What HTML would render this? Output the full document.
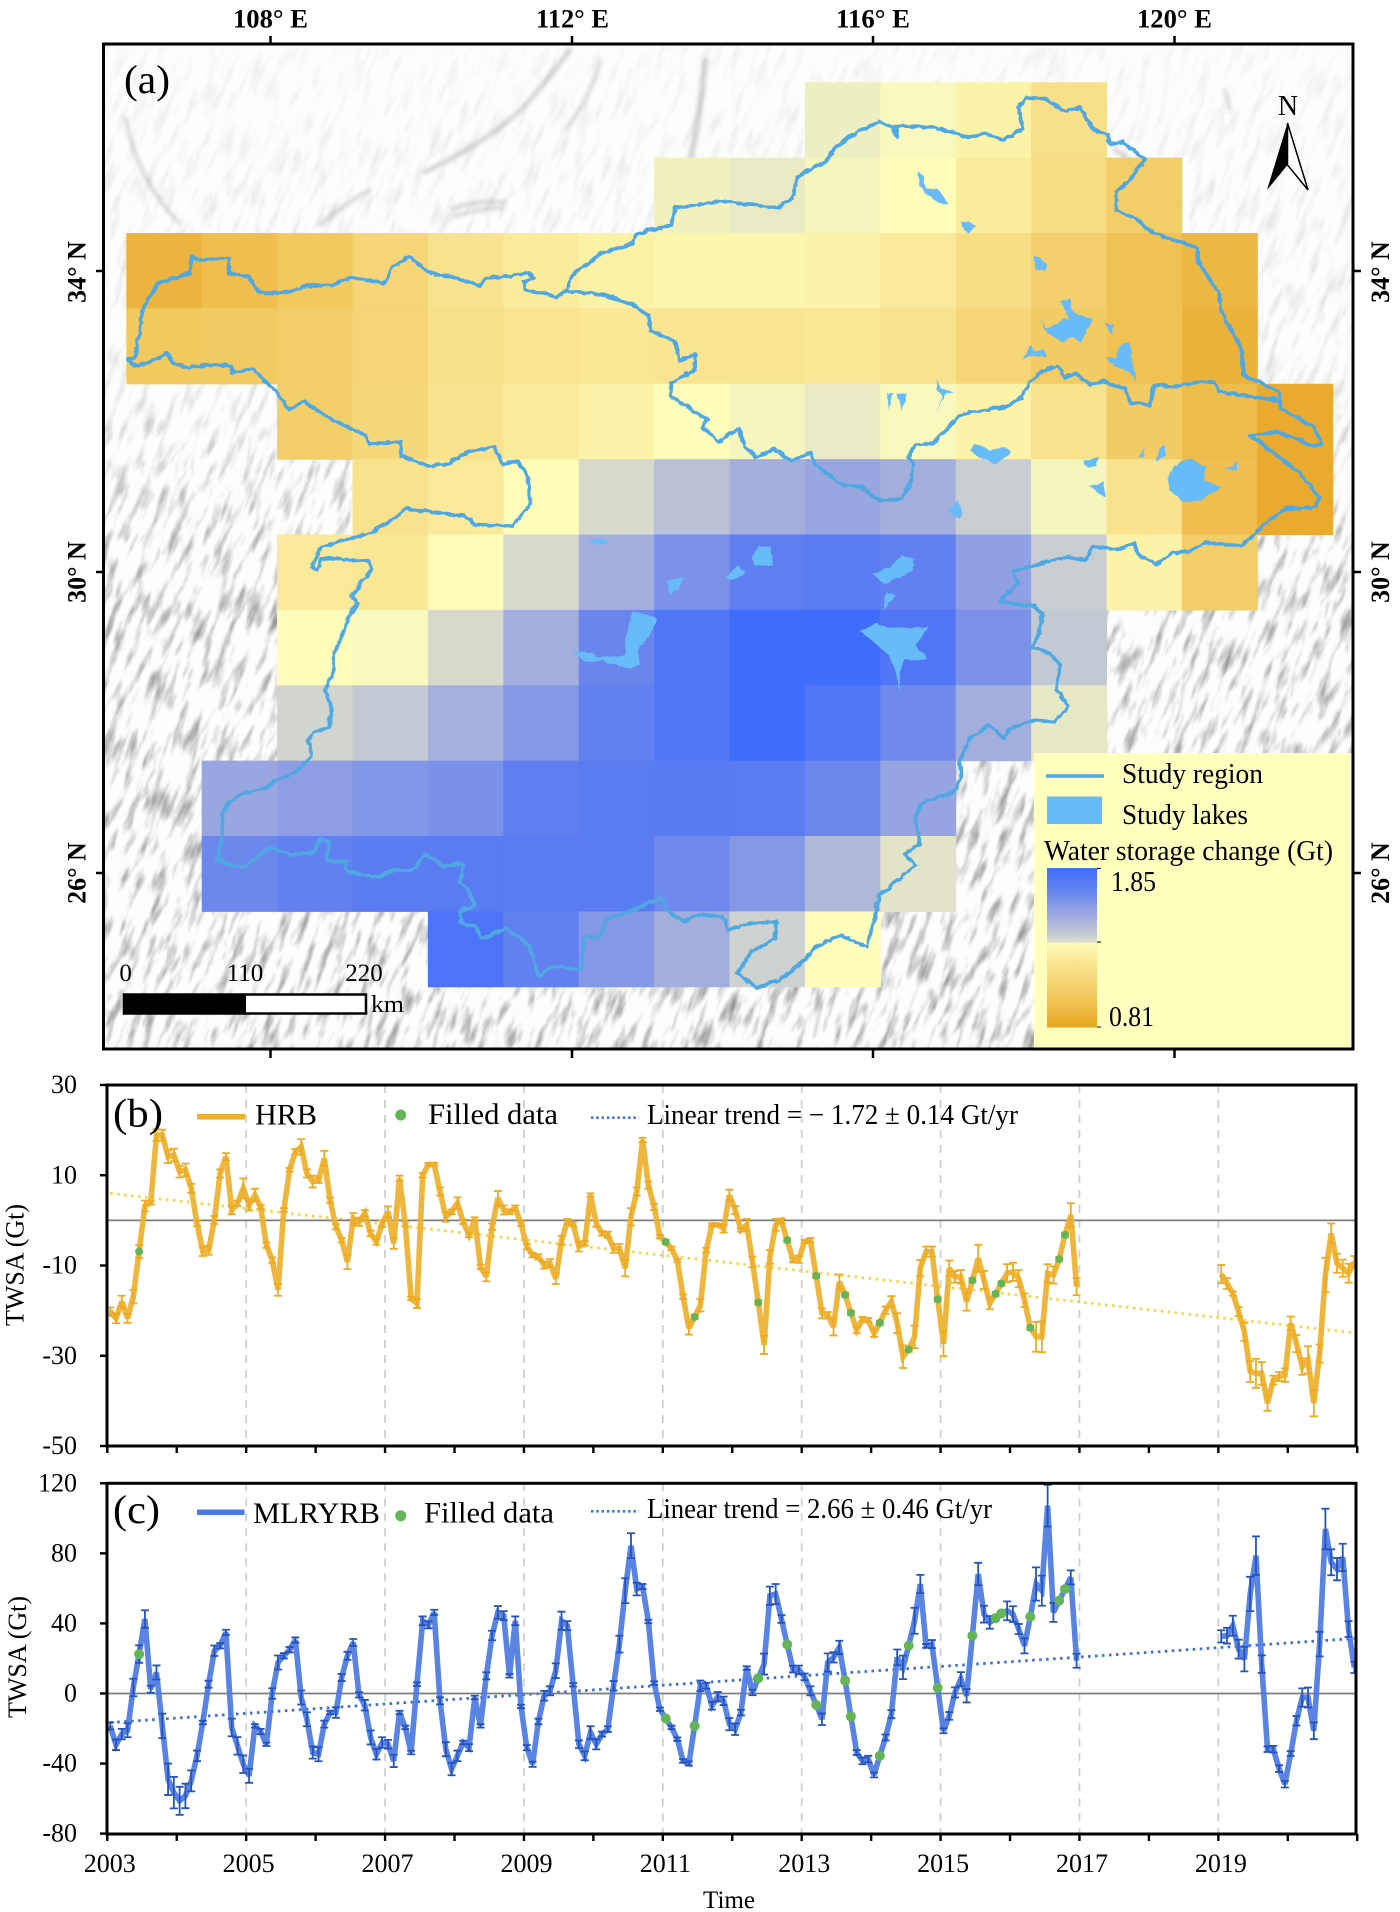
<!DOCTYPE html>
<html lang="en">
<head>
<meta charset="utf-8">
<title>Water storage change map and TWSA time series</title>
<style>
html,body{margin:0;padding:0;background:#fff;}
svg{display:block;}
text{font-family:"Liberation Serif","DejaVu Serif",serif;fill:#000;}
</style>
</head>
<body>
<svg id="figure" xmlns="http://www.w3.org/2000/svg" width="1400" height="1912" viewBox="0 0 1400 1912">
<defs>
  <clipPath id="mapClip"><rect x="103.5" y="44" width="1249.5" height="1005"/></clipPath>
  <clipPath id="clipB"><rect x="107" y="1085" width="1249" height="361"/></clipPath>
  <clipPath id="clipC"><rect x="107" y="1483" width="1249" height="351"/></clipPath>
  <filter id="relief" x="0" y="0" width="100%" height="100%" color-interpolation-filters="sRGB">
    <feTurbulence type="fractalNoise" baseFrequency="0.13 0.028" numOctaves="3" seed="11"/>
    <feColorMatrix type="matrix" values="0 0 0 0 .55  0 0 0 0 .55  0 0 0 0 .55  2.4 0 0 0 -1.16"/>
    <feGaussianBlur stdDeviation="0.7"/>
  </filter>
  <filter id="soft" x="-10%" y="-10%" width="120%" height="120%"><feGaussianBlur stdDeviation="2.2"/></filter>
  <filter id="wiggle" x="-2%" y="-2%" width="104%" height="104%" color-interpolation-filters="sRGB">
    <feTurbulence type="turbulence" baseFrequency="0.09" numOctaves="2" seed="4" result="n"/>
    <feDisplacementMap in="SourceGraphic" in2="n" scale="4" xChannelSelector="R" yChannelSelector="G"/>
  </filter>
  <linearGradient id="reliefFade" x1="0" y1="0" x2="0" y2="1">
    <stop offset="0" stop-color="#fff" stop-opacity=".12"/>
    <stop offset=".34" stop-color="#fff" stop-opacity=".3"/>
    <stop offset=".5" stop-color="#fff" stop-opacity=".9"/>
    <stop offset="1" stop-color="#fff" stop-opacity="1"/>
  </linearGradient>
  <mask id="reliefMask" maskUnits="userSpaceOnUse" x="103" y="44" width="1250" height="1005"><rect x="103" y="44" width="1250" height="1005" fill="url(#reliefFade)"/></mask>
  <linearGradient id="cbar" x1="0" y1="0" x2="0" y2="1">
    <stop offset="0" stop-color="#3f6cfb"/>
    <stop offset=".14" stop-color="#6384ef"/>
    <stop offset=".3" stop-color="#a0aadf"/>
    <stop offset=".42" stop-color="#c8ccd4"/>
    <stop offset=".465" stop-color="#dfe2cc"/>
    <stop offset=".47" stop-color="#fdfcbb"/>
    <stop offset=".6" stop-color="#f9e48f"/>
    <stop offset=".8" stop-color="#f2c95f"/>
    <stop offset="1" stop-color="#e8a520"/>
  </linearGradient>
</defs>

<!-- PANEL A: MAP -->
<g id="panelA">
  <rect x="103.5" y="44" width="1249.5" height="1005" fill="#fdfdfd"/>
  <g clip-path="url(#mapClip)">
    <g mask="url(#reliefMask)">
      <g transform="rotate(20 730 550)"><rect x="-50" y="-150" width="1560" height="1400" filter="url(#relief)"/></g>
    </g>
    <g fill="none" stroke="#8e8e8e" stroke-linecap="round" filter="url(#soft)" opacity=".45">
      <path stroke-width="3" d="M126,118 Q135,175 178,222"/>
      <path stroke-width="4" d="M425,172 Q500,135 530,100 Q555,70 570,50"/>
      <path stroke-width="3" d="M452,208 Q480,200 505,202"/>
      <path stroke-width="3" d="M455,216 Q480,208 502,208"/>
      <path stroke-width="5" d="M690,160 Q700,120 705,60"/>
      <path stroke-width="3" d="M600,60 Q590,100 565,130"/>
      <path stroke-width="3" d="M320,225 Q350,200 370,190"/>
      <path stroke-width="3" d="M1225,90 L1230,110"/>
      <path stroke-width="4" d="M1115,150 L1130,160"/>
    </g>
  </g>
  <g id="gridCells"></g>

  <g fill="#66bbf8" filter="url(#wiggle)">
    <g transform="translate(700,0) scale(.44643,.34435)">
      <path d="M485,495 L500,510 505,545 530,545 555,590 530,585 505,560 490,535Z"/>
      <path d="M582,640 L600,640 615,655 600,675 590,665Z"/>
      <path d="M743,740 L760,745 775,765 770,785 750,780Z"/>
      <path d="M805,870 L825,865 835,905 878,925 850,990 835,975 810,990 775,965 760,920 775,950 800,935 825,920Z"/>
      <path d="M905,935 L925,940 920,968 912,955Z"/>
      <path d="M720,1040 L740,1000 745,1015 770,1015 775,1035 750,1030 735,1030Z"/>
      <path d="M940,995 L962,995 965,1050 978,1110 960,1075 945,1070 925,1060 905,1035 930,1035Z"/>
      <path d="M415,1138 L432,1140 420,1185Z"/>
      <path d="M440,1145 L462,1138 450,1192Z"/>
      <path d="M525,1100 L540,1125 565,1135 545,1145 525,1195 540,1150 530,1130Z"/>
      <path d="M610,1285 L630,1290 650,1310 680,1295 695,1310 660,1345 620,1325 605,1305Z"/>
      <path d="M855,1335 L890,1325 885,1350 865,1355Z"/>
      <path d="M980,1325 L995,1295 990,1325Z"/>
      <path d="M1025,1300 L1040,1290 1040,1320 1020,1340Z"/>
      <path d="M1090,1330 L1130,1350 1125,1390 1165,1410 1120,1450 1080,1455 1050,1420 1045,1380 1060,1350Z"/>
      <path d="M1175,1360 L1205,1335 1200,1365Z"/>
      <path d="M870,1410 L905,1400 905,1440 885,1425Z"/>
      <path d="M555,1480 L575,1450 585,1490 575,1505Z"/>
    </g>
    <g transform="translate(700,540) scale(.44643,.34435)">
      <path d="M55,105 L85,70 100,95 65,115Z"/>
      <path d="M115,40 L130,15 155,20 160,70 120,70Z"/>
      <path d="M385,95 L420,80 450,40 480,55 470,90 410,125Z"/>
      <path d="M415,150 L435,155 400,220 395,240 430,255 510,250 480,300 510,345 460,345 445,380 445,440 435,370 420,330 375,280 355,265 395,235 410,200Z"/>
    </g>
    <g transform="translate(0,540) scale(.44643,.34435)">
      <path d="M1490,115 L1528,105 1520,135 1500,155Z"/>
      <path d="M1415,200 L1470,225 1455,270 1425,315 1430,360 1410,370 1350,350 1310,350 1280,320 1320,325 1340,340 1400,330 1400,280Z"/>
      <path d="M1315,0 L1350,-8 1365,5 1330,10Z"/>
    </g>
  </g>

  <g fill="none" stroke="#4fa8e2" stroke-width="3.6" stroke-linejoin="round" filter="url(#wiggle)">
    <g transform="scale(.44643,.34435)">
      <path vector-effect="non-scaling-stroke" d="M283,1040 L300,1035 305,1000 312,950 315,900 328,870 352,820 425,790 425,742 445,752 510,748 510,790 555,800 578,850 640,845 700,825 740,825 785,802 860,820 878,770 915,742 958,790 1010,800 1075,828 1085,805 1140,800 1180,788 1195,805 1170,815 1175,838 1245,860 1265,845 1278,800 1340,735 1415,705 1420,680 1500,650 1510,600 1568,590"/>
      <path vector-effect="non-scaling-stroke" d="M1265,845 L1295,845 1350,855 1415,880 1450,915 1455,955 1510,990 1520,1045 1555,1025 1555,1070 1530,1090 1500,1110 1500,1145 1568,1205"/>
      <path vector-effect="non-scaling-stroke" d="M760,1568 L830,1545 910,1475 1040,1495 1060,1520 1145,1525 1185,1460 1180,1380 1155,1335 1125,1345 1105,1295 1045,1310 1000,1345 960,1350 895,1320 895,1280 825,1285 815,1260 740,1215 680,1165 645,1185 610,1125 575,1085 565,1070 520,1080 515,1060 480,1055 420,1065 385,1050 370,1020 350,1040 300,1060 283,1040"/>
    </g>
    <g transform="translate(700,0) scale(.44643,.34435)">
      <path vector-effect="non-scaling-stroke" d="M0,590 L50,580 100,590 175,600 205,570 215,510 280,465 300,425 350,380 400,350 430,370 440,395 435,365 490,365 530,370 600,395 640,385 680,405 720,370 710,310 730,280 775,285 810,320 850,310 880,375 910,385 915,415 945,410 995,460 960,520 930,555 930,610 975,630 1005,670 1110,715 1115,760 1160,850 1165,900 1210,1010 1215,1085 1295,1135 1295,1160"/>
      <path vector-effect="non-scaling-stroke" d="M0,1205 L15,1215 5,1240 40,1280 85,1240 100,1300 125,1325 165,1300 200,1335 245,1310 255,1345 315,1405 360,1410 400,1450 450,1445 470,1400 475,1340 465,1325 480,1290 520,1285 570,1215 600,1195 680,1180 720,1150 735,1110 765,1075 800,1060 815,1095 840,1080 870,1115 900,1105 950,1125 960,1165 1005,1175 1015,1115 1055,1120 1100,1110 1150,1105 1160,1135 1210,1145 1295,1160 1300,1185 1375,1240 1390,1285 1375,1295 1340,1275 1290,1250 1230,1262 1270,1300 1340,1370 1385,1440 1375,1470 1310,1475 1260,1520 1225,1568"/>
    </g>
    <g transform="translate(700,540) scale(.44643,.34435)">
      <path vector-effect="non-scaling-stroke" d="M1225,0 L1210,12 1130,5 1095,30 1058,35 1020,68 980,40 970,5 935,25 880,15 860,55 820,45 750,70 700,90 710,120 670,175 745,190 765,210 760,260 740,310 780,325 805,360 795,430 825,480 790,525 745,520 690,545 680,575 645,535 600,575 578,640 585,690 565,730 495,760 480,800 490,880 455,910 480,940 430,1000 400,1030 390,1090 380,1130 372,1180 315,1145 255,1180 230,1220 175,1275 125,1297 80,1255 115,1190 165,1155 170,1105 110,1110 60,1130 50,1090 0,1085"/>
    </g>
    <g transform="translate(0,540) scale(.44643,.34435)">
      <path vector-effect="non-scaling-stroke" d="M1568,1085 L1530,1105 1490,1070 1480,1035 1420,1070 1360,1095 1340,1150 1305,1150 1300,1245 1230,1235 1205,1265 1185,1175 1130,1125 1080,1155 1060,1120 1030,1110 1030,1075 1060,1060 1045,1010 1030,990 1035,935 990,945 950,910 920,960 880,955 845,975 790,965 770,950 775,930 730,930 735,870 715,865 700,905 650,910 600,890 565,925 540,950 500,935 485,925 495,860 495,790 510,760 540,735 600,715 615,695 660,670 695,625 690,580 700,555 735,540 740,490 725,430 745,380 745,330 780,220 800,180 785,160 830,85 825,60 745,50 715,50 710,85 695,75 715,20 760,0"/>
    </g>
  </g>

  <text x="124" y="93" font-size="40" textLength="46" lengthAdjust="spacingAndGlyphs">(a)</text>

  <g>
    <text x="1288" y="115" font-size="28" text-anchor="middle">N</text>
    <path d="M1287.5,123 L1267,190 1287.5,165Z" fill="#000"/>
    <path d="M1287.5,123 L1308,190 1287.5,165Z" fill="#fff" stroke="#000" stroke-width="1.5"/>
  </g>

  <g>
    <rect x="124" y="994.5" width="242" height="19" fill="#fff" stroke="#000" stroke-width="2.5"/>
    <rect x="124" y="994" width="122" height="20" fill="#000"/>
    <text x="125.6" y="981" font-size="25" text-anchor="middle">0</text>
    <text x="245" y="981" font-size="25" text-anchor="middle">110</text>
    <text x="364" y="981" font-size="25" text-anchor="middle">220</text>
    <text x="371" y="1012" font-size="24" textLength="33" lengthAdjust="spacingAndGlyphs">km</text>
  </g>

  <g>
    <rect x="1034" y="753" width="318" height="295" fill="#ffffbe"/>
    <line x1="1046" y1="776" x2="1104" y2="776" stroke="#4fa8e2" stroke-width="3.4"/>
    <text x="1122" y="783" font-size="29" textLength="141" lengthAdjust="spacingAndGlyphs">Study region</text>
    <rect x="1047" y="796.5" width="55" height="27.5" fill="#66bbf8"/>
    <text x="1122" y="824" font-size="29" textLength="126" lengthAdjust="spacingAndGlyphs">Study lakes</text>
    <text x="1044" y="860" font-size="29" textLength="289" lengthAdjust="spacingAndGlyphs">Water storage change (Gt)</text>
    <rect x="1047" y="868" width="50" height="159.5" fill="url(#cbar)"/>
    <path d="M1097,868.5 H1101 M1097,942 H1101 M1097,1027 H1101" stroke="#000" stroke-width="1"/>
    <text x="1111" y="891" font-size="29" textLength="45" lengthAdjust="spacingAndGlyphs">1.85</text>
    <text x="1109" y="1026" font-size="29" textLength="45" lengthAdjust="spacingAndGlyphs">0.81</text>
  </g>

  <rect x="103.5" y="44" width="1249.5" height="1005" fill="none" stroke="#000" stroke-width="3"/>
  <path d="M270.5,44 V36 M572,44 V36 M873,44 V36 M1174.5,44 V36 M270.5,1049 V1058 M572,1049 V1058 M873,1049 V1058 M1174.5,1049 V1058 M103.5,271 H96 M103.5,572 H96 M103.5,873 H96 M1353,271 H1361 M1353,572 H1361 M1353,873 H1361" stroke="#000" stroke-width="2.5"/>
  <g font-size="26" font-weight="bold" text-anchor="middle">
    <text x="270.5" y="27.5" textLength="75" lengthAdjust="spacingAndGlyphs" font-weight="bold">108° E</text>
    <text x="572.5" y="27.5" textLength="73" lengthAdjust="spacingAndGlyphs" font-weight="bold">112° E</text>
    <text x="873" y="27.5" textLength="74" lengthAdjust="spacingAndGlyphs" font-weight="bold">116° E</text>
    <text x="1174.5" y="27.5" textLength="75" lengthAdjust="spacingAndGlyphs" font-weight="bold">120° E</text>
    <text transform="translate(85.5,272) rotate(-90)" font-weight="bold">34° N</text>
    <text transform="translate(85.5,572) rotate(-90)" font-weight="bold">30° N</text>
    <text transform="translate(85.5,873) rotate(-90)" font-weight="bold">26° N</text>
    <text transform="translate(1389,272) rotate(-90)" font-weight="bold">34° N</text>
    <text transform="translate(1389,572) rotate(-90)" font-weight="bold">30° N</text>
    <text transform="translate(1389,873) rotate(-90)" font-weight="bold">26° N</text>
  </g>
</g>

<!-- PANEL B -->
<g id="panelB">
  <g id="plotB" clip-path="url(#clipB)"></g>
  <rect x="107" y="1085" width="1249" height="361" fill="none" stroke="#000" stroke-width="3"/>
  <g id="axisB"></g>
  <text transform="translate(23.5,1265) rotate(-90)" font-size="26" text-anchor="middle">TWSA (Gt)</text>
  <text x="113" y="1126.7" font-size="40" textLength="50" lengthAdjust="spacingAndGlyphs">(b)</text>
  <g>
    <line x1="197" y1="1116.7" x2="245" y2="1116.7" stroke="#eeb02e" stroke-width="5.5"/>
    <text x="255" y="1124.3" font-size="30" textLength="62" lengthAdjust="spacingAndGlyphs">HRB</text>
    <circle cx="400.7" cy="1115" r="5.5" fill="#63b557"/>
    <text x="428" y="1124" font-size="30" textLength="130" lengthAdjust="spacingAndGlyphs">Filled data</text>
    <line x1="591" y1="1117.7" x2="639" y2="1117.7" stroke="#3f6fd8" stroke-width="2.6" stroke-dasharray="2.4 2.9"/>
    <text x="647" y="1124" font-size="28" textLength="371" lengthAdjust="spacingAndGlyphs">Linear trend = − 1.72 ± 0.14 Gt/yr</text>
  </g>
</g>

<!-- PANEL C -->
<g id="panelC">
  <g id="plotC" clip-path="url(#clipC)"></g>
  <rect x="107" y="1483.3" width="1249" height="350.7" fill="none" stroke="#000" stroke-width="3"/>
  <g id="axisC"></g>
  <text transform="translate(26,1657) rotate(-90)" font-size="26" text-anchor="middle">TWSA (Gt)</text>
  <text x="729" y="1908" font-size="25" text-anchor="middle">Time</text>
  <text x="113" y="1523" font-size="40" textLength="47" lengthAdjust="spacingAndGlyphs">(c)</text>
  <g>
    <line x1="197" y1="1512.3" x2="244.5" y2="1512.3" stroke="#4b7ae2" stroke-width="5.5"/>
    <text x="253" y="1523" font-size="30" textLength="127" lengthAdjust="spacingAndGlyphs">MLRYRB</text>
    <circle cx="400.7" cy="1515.7" r="5.5" fill="#63b557"/>
    <text x="424" y="1522.7" font-size="30" textLength="130" lengthAdjust="spacingAndGlyphs">Filled data</text>
    <line x1="591" y1="1511.3" x2="639" y2="1511.3" stroke="#3f6fd8" stroke-width="2.6" stroke-dasharray="2.4 2.9"/>
    <text x="647" y="1518" font-size="28" textLength="345" lengthAdjust="spacingAndGlyphs">Linear trend = 2.66 ± 0.46 Gt/yr</text>
  </g>
</g>

<script>
// ---- Map grid values (Gt), rows north to south, null = no data
const gridRows = [
  [null,null,null,null,null,null,null,null,null,1.22,1.205,1.15,1.07,null,null,null],
  [null,null,null,null,null,null,null,1.215,1.225,1.21,1.20,1.12,1.06,1.00,null,null],
  [0.88,0.93,0.98,1.03,1.08,1.12,1.145,1.16,1.16,1.15,1.11,1.06,1.01,0.95,0.90,null],
  [0.98,0.985,1.00,1.03,1.07,1.09,1.10,1.09,1.09,1.10,1.08,1.03,0.99,0.95,0.87,null],
  [null,null,1.00,1.04,1.08,1.12,1.15,1.20,1.21,1.225,1.205,1.15,1.08,0.99,0.92,0.82],
  [null,null,null,1.08,1.11,1.20,1.25,1.31,1.36,1.40,1.36,1.28,1.21,1.08,0.93,0.82],
  [null,null,1.11,1.10,1.20,1.25,1.36,1.50,1.63,1.66,1.62,1.43,1.28,1.15,1.00,null],
  [null,null,1.20,1.205,1.25,1.36,1.58,1.72,1.85,1.85,1.72,1.50,1.29,null,null,null],
  [null,null,1.26,1.29,1.35,1.47,1.62,1.72,1.85,1.73,1.56,1.36,1.23,null,null,null],
  [null,1.40,1.44,1.48,1.51,1.63,1.65,1.67,1.66,1.57,1.41,null,null,null,null,null],
  [null,1.57,1.62,1.65,1.66,1.66,1.66,1.56,1.47,1.33,1.235,null,null,null,null,null],
  [null,null,null,null,1.75,1.62,1.47,1.36,1.27,1.20,null,null,null,null,null,null]
];
const colorStopValues = [0.81,0.90,0.98,1.05,1.10,1.15,1.20,1.25,1.35,1.50,1.65,1.85];
const colorStopHex = ['#e8a82c','#edb743','#f1c95f','#f6da80','#fae796','#fcf3a8','#fdfcbb','#d6d9cc','#a7b0dc','#7c92e9','#5b7cf1','#3f6cfb'];

// ---- Panel (b) HRB monthly TWSA, Gt. Segment 1 starts Jan 2003, segment 2 starts Jan 2019
const hrbValues1 = [-20.2,-21.7,-18.0,-21.7,-16.9,-6.9,3.2,3.9,18.9,18.9,14.1,14.5,10.8,11.2,7.1,-0.7,-6.9,-6.6,0.1,10.4,14.1,2.3,3.8,7.1,3.4,5.6,3.0,-5.5,-8.8,-15.4,2.3,11.2,15.2,16.3,10.4,8.6,8.9,13.7,4.5,-1.4,-4.4,-9.2,0.4,-0.3,1.6,-2.9,-4.7,-0.7,1.9,-5.1,9.3,-0.8,-17.3,-18.4,10.0,12.4,12.4,6.4,0.8,1.9,3.8,-0.3,-3.2,0.3,-10.3,-12.5,-1.4,4.9,2.3,1.9,2.7,-0.7,-5.8,-7.7,-8.1,-9.9,-9.5,-12.9,-4.4,-0.3,-0.8,-5.8,-5.1,5.6,-0.7,-2.9,-3.2,-6.2,-6.2,-10.6,0.8,6.4,17.8,7.8,3.0,-3.6,-4.8,-6.2,-8.9,-16.9,-23.9,-21.4,-18.8,-6.6,-1.0,-1.0,-1.8,5.6,2.3,-2.1,-1.0,-9.2,-18.2,-27.6,-8.1,-1.0,-0.1,-4.4,-8.8,-8.6,-4.7,-4.4,-12.3,-20.6,-21.0,-23.6,-13.6,-16.5,-20.5,-24.3,-21.9,-22.1,-25.0,-22.7,-19.9,-18.0,-22.8,-30.2,-28.6,-25.8,-10.6,-6.9,-6.9,-17.5,-27.3,-10.6,-12.5,-12.5,-18.0,-13.3,-8.4,-13.2,-18.4,-16.3,-14.0,-11.7,-11.4,-12.9,-17.7,-23.8,-25.8,-25.8,-11.7,-12.1,-8.6,-3.2,1.2,-14.7];
const hrbErrors1 = [.9,1.1,1.3,1,1.5,1.4,1.2,.4,1.3,1.2,1.4,1.4,1.3,1.4,1,.6,1,1,.9,.9,.8,.9,.6,2.2,1.2,1.4,.4,.6,.6,1.3,.4,.4,.6,1.7,.9,1.3,.6,1.7,.6,.6,.5,1.6,1.2,.9,.7,.6,.7,.7,1.2,1.2,.6,.5,.4,1,.5,.3,.3,.9,1.1,.5,1.3,.5,.5,.4,.5,1,.7,1.6,1,.5,.6,.5,.6,.5,.6,.8,.9,1.2,1,.6,.5,1.1,.5,.4,.7,.5,.7,1,1,1.8,1.9,.9,.5,.8,.7,.4,.5,.4,.3,.5,1.4,.5,1.4,.5,.3,.3,.9,1.2,.9,.4,1.3,1.2,.5,2,1.5,1.3,.5,.5,.5,.8,.4,.5,.5,1.1,.7,1.9,1.6,.5,.5,.7,.5,.5,.8,.5,.8,1.2,2.2,2.5,.5,2.5,1.8,1.1,1.1,.5,2.8,1.7,1.3,1.5,2,.5,3,2,1.3,.5,.5,2,2,1.9,1.5,.5,3.3,3.4,2,1.9,.5,.5,2.6,1.9];
const hrbValues2 = [-11.9,-14.0,-16.2,-20.2,-24.7,-33.5,-33.9,-33.9,-40.5,-35.4,-34.6,-34.3,-22.8,-27.3,-32.4,-30.9,-40.5,-29.5,-12.1,-2.9,-9.5,-10.6,-11.7,-9.2];
const hrbErrors2 = [2,1.2,.5,1,2,2.3,3.2,2.5,1.7,1,1,1.5,1.5,1.9,1.8,3,2.9,2,3.8,2.2,2.1,1.9,2.1,1.3];
const hrbFilledMonths = [5,96,101,112,117,122,127,128,133,138,143,149,153,154,159,164,165];
const hrbTrendEnds = [6.0,-24.9];
const hrbYTicks = [30,10,-10,-30,-50];

// ---- Panel (c) MLRYRB monthly TWSA, Gt
const mlrValues1 = [-18.5,-29.3,-23.2,-21,3.4,22.5,42.5,2.5,12,-18.5,-49,-56.6,-61.3,-58.5,-49.9,-35.6,-16.6,5.3,24.4,27.2,34.9,-19.4,-29.9,-40.4,-47,-18.5,-21.7,-29,0,17.7,21.5,25,30.5,-2.3,-14.7,-33.7,-34.7,-17.5,-10.9,-10.9,9.1,21.5,29.1,-0.8,-6.7,-25.1,-34.7,-28,-29,-38.5,-10.9,-19.4,-33.7,5.3,41.5,39.2,46.3,-4.2,-31.8,-43.2,-35.6,-28,-30.9,-2.3,-18.5,10.1,33.1,46.3,44.4,10.1,41.5,-7.4,-30.9,-40.4,-16,-1.3,1.5,13,41.5,38.7,5,-29,-35.6,-22.3,-29,-23.2,-20.4,4.4,28.2,58.7,84.4,59.6,61.1,41.1,5.9,-9,-14.3,-19.4,-26.1,-38.5,-40,-18.5,4.4,4.4,-7,-1.9,-4.2,-17.5,-20.4,-10.9,14.5,0.6,8.8,16.8,55.8,56.8,42.5,28,13.9,13.5,9.5,1.5,-6.5,-14.7,17.7,20.6,26.3,7.4,-13.1,-33.7,-38.5,-37.5,-46.5,-35.6,-25.1,-11.8,20.6,14.9,27.4,41.5,62.5,27.2,28.2,3.2,-21.3,-12.8,0.6,8.2,-1.3,33,68.2,45.3,40.6,43,45.7,47.2,45.3,36.8,27.2,43.8,62.5,58.7,107.2,46.3,53,59.6,66.3,18.7];
const mlrErrors1 = [2,3,3,4,5,5,5,2,4,7,9,9,8,7,6,3,1,2,3,1.5,1.5,5,5,5,4,1,1.5,1,3,4,1.5,1.5,1.5,4,4,3.5,4,2,1,3,2,2.3,2,1.5,3,4,3,3,2.5,3.5,1,1,1,1,2.5,2,1.5,2,4,3.5,3,1,2,1,1,2,2.7,3.6,2.6,1,2.5,1,1.5,1.5,1.6,2.8,2.6,4.2,5.2,2.6,1,2.2,2.5,3.6,2.9,1.4,1.6,2.7,4.8,7.1,7.1,3.6,1.4,1,1,1,1,1,1,1,1.2,1,3,1.7,2.2,2.7,2.4,3.5,3.3,1.6,1,1.6,1.5,6,5.2,5.7,2.2,1,1.9,2.4,1.9,2.6,1,3.3,5.2,2.9,3.8,1.5,1.5,1.4,1.9,1.9,1.4,1,1.7,2.3,4.5,6.7,1,7.4,5.2,1.1,2.3,1,1.4,2.2,2.9,4,3.8,1,6.4,4.8,3.6,1,1,5.4,4.5,2.9,4.3,1,9.5,8.6,11.9,5.4,1,1,4,4];
const mlrValues2 = [32.6,33,38.7,25.3,19.6,56.8,78.7,16.8,-31.8,-31.8,-42.9,-51.8,-34.3,-15.6,-2.3,-2.3,-21.3,28.2,93.9,74.9,71,77.7,36.8,14.9];
const mlrErrors2 = [3.5,4.5,5.7,5.4,7,9.8,11,5,1.6,1.9,1.9,1.9,1.4,2.7,5.2,5.7,4.8,7,11.6,7.4,6.4,7.8,4.5,3.2];
const mlrFilledMonths = [5,96,101,112,117,122,127,128,133,138,143,149,153,154,159,164,165];
const mlrTrendEnds = [-16.6,31.4];
const mlrYTicks = [120,80,40,0,-40,-80];

// ---- Shared time axis
const xTickYears = [2003,2004,2005,2006,2007,2008,2009,2010,2011,2012,2013,2014,2015,2016,2017,2018,2019,2020,2021];
const xLabelYears = [2003,2005,2007,2009,2011,2013,2015,2017,2019];
const dashedYears = [2005,2007,2009,2011,2013,2015,2017,2019];

const NS = 'http://www.w3.org/2000/svg';
function mk(tag, attrs, parent){
  const e = document.createElementNS(NS, tag);
  for (const k in attrs) e.setAttribute(k, attrs[k]);
  parent.appendChild(e);
  return e;
}
function xYear(y){ return 107.3 + (y - 2003) * 69.44; }
function xMonth(m){ return xYear(2003 + (m + 0.5) / 12); }
function yB(v){ return 1085 + (30 - v) * 4.5125; }
function yC(v){ return 1483.3 + (120 - v) * 1.7515; }

function hexToRgb(h){ return [parseInt(h.slice(1,3),16),parseInt(h.slice(3,5),16),parseInt(h.slice(5,7),16)]; }
function colorFor(v){
  for (let i = 0; i < colorStopValues.length - 1; i++){
    if (v <= colorStopValues[i+1]){
      const f = Math.max(0,(v - colorStopValues[i]) / (colorStopValues[i+1] - colorStopValues[i]));
      const a = hexToRgb(colorStopHex[i]), b = hexToRgb(colorStopHex[i+1]);
      return 'rgb(' + a.map((c,k) => Math.round(c + (b[k]-c)*f)).join(',') + ')';
    }
  }
  return colorStopHex[colorStopHex.length-1];
}
function gridX(c){ return 126.3 + 75.4 * c; }
function gridY(r){ return 82.3 + 75.37 * r; }

const gridG = document.getElementById('gridCells');
gridRows.forEach((row, r) => row.forEach((v, c) => {
  if (v === null) return;
  const cell = mk('rect', {x:gridX(c), y:gridY(r), width:75.9, height:75.9, fill:colorFor(v)}, gridG);
  
  
}));

function drawChart(opt){
  const plot = document.getElementById(opt.plotId), axis = document.getElementById(opt.axisId);
  const top = opt.top, bottom = opt.bottom, y = opt.y;
  dashedYears.forEach(yr => {
    const g = mk('line', {x1:xYear(yr), x2:xYear(yr), y1:top, y2:bottom, stroke:'#cfcfcf', 'stroke-width':1.8, 'stroke-dasharray':'8 7'}, plot);
    
    
  });
  const trend = mk('line', {x1:xMonth(0), x2:xMonth(215), y1:y(opt.trendEnds[0]), y2:y(opt.trendEnds[1]), stroke:opt.trendColor, 'stroke-width':2.8, 'stroke-dasharray':'2.6 4.4'}, plot);
  
  
  const zero = mk('line', {x1:107, x2:1356, y1:y(0), y2:y(0), stroke:'#7d7d7d', 'stroke-width':1.8}, plot);
  
  

  opt.segments.forEach(seg => {
    const pts = seg.values.map((v, k) => xMonth(seg.start + k).toFixed(1) + ',' + y(v).toFixed(1)).join(' ');
    const line = mk('polyline', {points:pts, fill:'none', stroke:opt.color, 'stroke-width':5.6, 'stroke-linejoin':'miter', 'stroke-miterlimit':3, opacity:.92}, plot);
    
    
    seg.values.forEach((v, k) => {
      const x = xMonth(seg.start + k), e = seg.errors[k];
      const d = 'M' + x + ',' + y(v+e) + 'V' + y(v-e) + 'M' + (x-4) + ',' + y(v+e) + 'h8M' + (x-4) + ',' + y(v-e) + 'h8';
      const bar = mk('path', {d:d, fill:'none', stroke:opt.capColor, 'stroke-width':1.8}, plot);
      
      
    });
  });

  opt.filled.forEach(m => {
    const seg = opt.segments[0];
    const dot = mk('circle', {cx:xMonth(m), cy:y(seg.values[m - seg.start]), r:opt.dotR, fill:'#63b557'}, plot);
    
    
  });

  opt.yTicks.forEach(v => {
    const t = mk('line', {x1:100, x2:107, y1:y(v), y2:y(v), stroke:'#000', 'stroke-width':2.4}, axis);
    
    
    const l = mk('text', {x:77, y:y(v)+8, 'font-size':26, 'text-anchor':'end'}, axis);
    l.textContent = String(v);
    
    
  });
  xTickYears.forEach(yr => {
    const t = mk('line', {x1:xYear(yr), x2:xYear(yr), y1:bottom, y2:bottom+7, stroke:'#000', 'stroke-width':2.4}, axis);
    
    
  });
  if (opt.labels){
    xLabelYears.forEach(yr => {
      const l = mk('text', {x:xYear(yr)+2.5, y:1872, 'font-size':26, 'text-anchor':'middle'}, axis);
      l.textContent = String(yr);
      
      
    });
  }
}

drawChart({
  plotId:'plotB', axisId:'axisB', top:1085, bottom:1446, y:yB, series:'hrb',
  color:'#eeb02e', capColor:'#edaa22', trendColor:'#f7d54a', trendEnds:hrbTrendEnds, dotR:4,
  segments:[{start:0, values:hrbValues1, errors:hrbErrors1},{start:192, values:hrbValues2, errors:hrbErrors2}],
  filled:hrbFilledMonths, yTicks:hrbYTicks, labels:false
});
drawChart({
  plotId:'plotC', axisId:'axisC', top:1483.3, bottom:1834, y:yC, series:'mlryrb',
  color:'#4b7ae2', capColor:'#2553bd', trendColor:'#3f6fd8', trendEnds:mlrTrendEnds, dotR:5,
  segments:[{start:0, values:mlrValues1, errors:mlrErrors1},{start:192, values:mlrValues2, errors:mlrErrors2}],
  filled:mlrFilledMonths, yTicks:mlrYTicks, labels:true
});
</script>
</svg>
</body>
</html>
